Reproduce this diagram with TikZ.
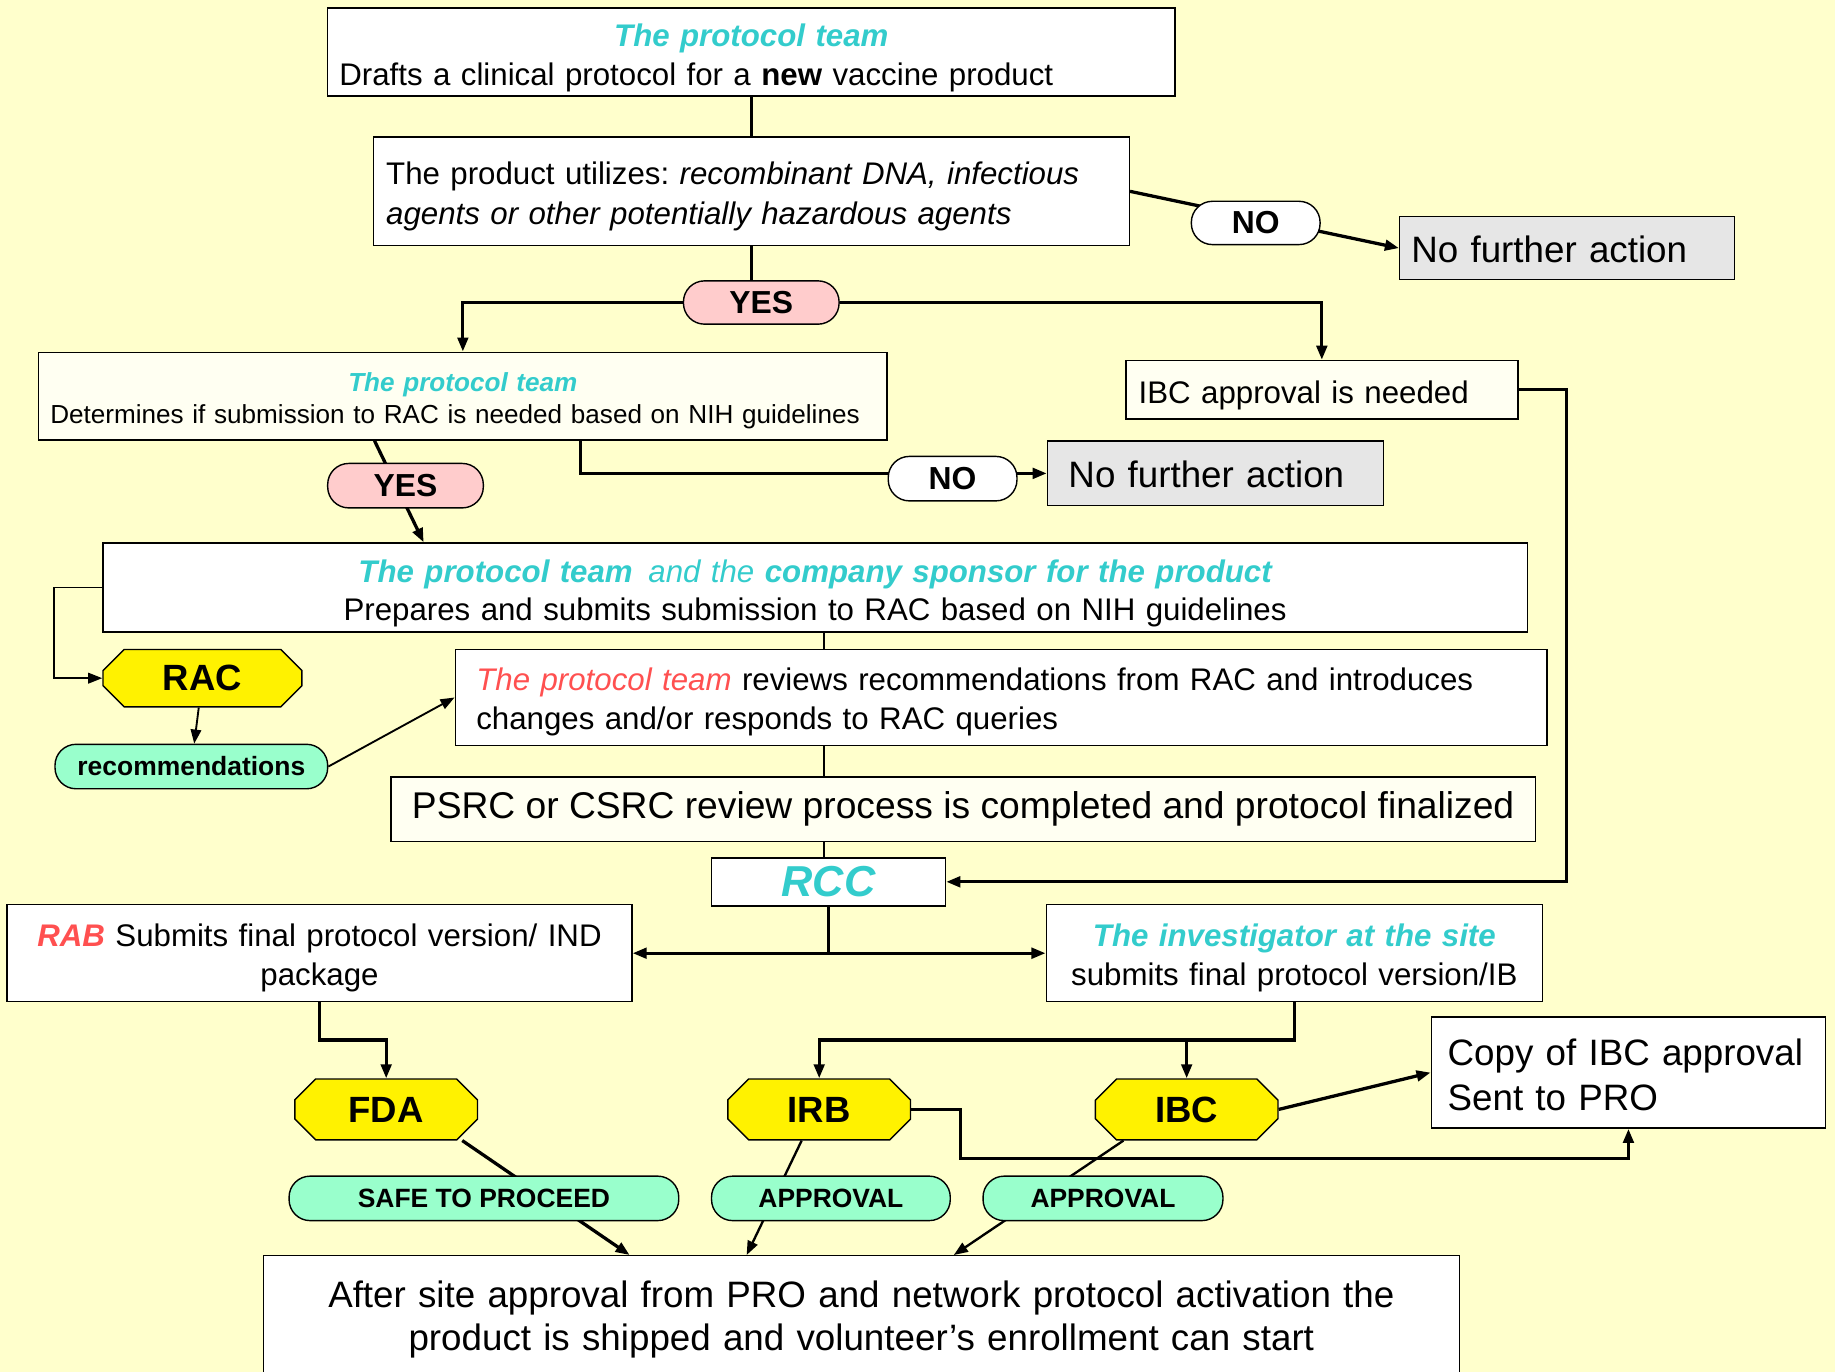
\documentclass[tikz,border=0pt]{standalone}
\usepackage{fontspec}
\setmainfont{Liberation Sans}
\usetikzlibrary{shapes.misc,arrows.meta,calc}

\definecolor{bgyellow}{HTML}{FFFFCC}
\definecolor{teamcyan}{HTML}{33CCCC}
\definecolor{teamred}{HTML}{FF5050}
\definecolor{yespink}{HTML}{FFCCCC}
\definecolor{mint}{HTML}{99FFCC}
\definecolor{stopgray}{HTML}{E6E6E6}
\definecolor{cream}{HTML}{FFFFF2}

\newcommand\fsbody{\fontsize{13.35pt}{16.5pt}\selectfont}
\newcommand\fsbig{\fontsize{15.7pt}{18.5pt}\selectfont}
\newcommand\fssmall{\fontsize{11.15pt}{13.5pt}\selectfont}
\newcommand\fsgate{\fontsize{15.6pt}{18pt}\selectfont}
\newcommand\team[1]{{\color{teamcyan}\bfseries\itshape #1}}
\newcommand\headroom[1]{\rule{0pt}{#1}}

\pgfdeclarelayer{paper}
\pgfdeclarelayer{wires}
\pgfsetlayers{paper,wires,main}

\tikzset{
  box/.style={draw, line width=0.6pt, fill=white, inner ysep=0pt, inner xsep=5pt, font=\fsbody},
  pill/.style={draw, line width=0.6pt, rounded corners=9pt, inner sep=0pt, minimum height=18.5pt, font=\fontsize{13.6pt}{16pt}\selectfont\bfseries},
  tag/.style={pill, fill=mint, font=\fontsize{11.3pt}{13.5pt}\selectfont\bfseries},
  gate/.style={chamfered rectangle, chamfered rectangle xsep=6.5pt, draw, line width=0.6pt, fill=yellow,
    inner sep=0pt, minimum width=78pt, minimum height=26pt, font=\fsgate\bfseries},
  link/.style={line width=1.4pt},
  midlink/.style={line width=1pt},
  thinlink/.style={line width=0.8pt},
}

\begin{document}
\frenchspacing
\begin{tikzpicture}[x=0.5pt, y=-0.5pt, >={Triangle[length=6pt,width=4.5pt]}]
  \useasboundingbox (0,0) rectangle (1568,1172);
  \begin{pgfonlayer}{paper}
    \fill[bgyellow] (0,0) rectangle (1568,1172);
  \end{pgfonlayer}

  % drafting and first decision
  \node[box, text width=352pt, minimum height=37.5pt, align=left] (draft) at (642,44.5)
    {\makebox[\linewidth]{\headroom{14.7pt}\team{The protocol team}}\\ Drafts a clinical protocol for a \textbf{new} vaccine product};
  \node[box, inner xsep=5.5pt, text width=312pt, minimum height=46.5pt, align=left,
    font=\fontsize{13.35pt}{17pt}\selectfont] (agents) at (642,163.5)
    {\headroom{14.2pt}The product utilizes: \textit{recombinant DNA, infectious}\\ \textit{agents or other potentially hazardous agents}};
  \node[pill, fill=white, minimum width=55pt] (no1) at (1073,190.5) {NO};
  \node[box, fill=stopgray, text width=133pt, minimum height=27pt, align=left, font=\fsbig] (stop1) at (1339,212)
    {\headroom{12.5pt}No further action};
  \node[pill, fill=yespink, minimum width=66.5pt] (yes1) at (650.5,258.5) {YES};

  % RAC decision
  \node[box, fill=cream, text width=352.5pt, minimum height=37.5pt, align=left, font=\fssmall] (decide) at (395.5,338.5)
    {\makebox[\linewidth]{\headroom{12.1pt}\team{The protocol team}}\\ Determines if submission to RAC is needed based on NIH guidelines};
  \node[box, fill=cream, inner xsep=5.5pt, text width=156.5pt, minimum height=25pt, align=left] (ibcneed) at (1129.5,333)
    {\headroom{14.6pt}IBC approval is needed};
  \node[pill, fill=yespink, minimum width=66.5pt, minimum height=19pt] (yes2) at (346.5,415) {YES};
  \node[pill, fill=white, minimum width=55pt, minimum height=19pt] (no2) at (814,409) {NO};
  \node[box, fill=stopgray, inner xsep=9pt, text width=125.5pt, minimum height=27.5pt, align=left, font=\fsbig] (stop2) at (1038.5,404.5)
    {\headroom{12.5pt}No further action};

  % RAC submission loop
  \node[box, text width=598.5pt, minimum height=38pt, align=center, font=\fontsize{13.35pt}{16pt}\selectfont] (prep) at (696.5,502)
    {\headroom{14.7pt}\team{The protocol team}\enspace{\color{teamcyan}\itshape and the} \team{company sponsor for the product}\\
     Prepares and submits submission to RAC based on NIH guidelines};
  \node[gate, minimum width=85pt, minimum height=24.5pt] (rac) at (173,579.5) {RAC};
  \node[tag, minimum width=116.5pt, minimum height=19pt] (recs) at (163.5,655) {recommendations};
  \node[box, inner xsep=9pt, text width=448.5pt, minimum height=41pt, align=left] (review) at (855.5,596)
    {\headroom{13.7pt}{\color{teamred}\itshape The protocol team} reviews recommendations from RAC and introduces\\ changes and/or responds to RAC queries};
  \node[box, fill=cream, minimum width=489pt, minimum height=27.5pt, font=\fontsize{15.9pt}{18.5pt}\selectfont] (psrc) at (823,691.5)
    {PSRC or CSRC review process is completed and protocol finalized};
  \node[box, inner xsep=0pt, minimum width=100pt, minimum height=20.5pt, text=teamcyan,
    font=\fontsize{18.5pt}{20pt}\selectfont\bfseries\itshape] (rcc) at (708,753.5) {RCC};

  % final submissions
  \node[box, text width=257pt, minimum height=41.5pt, align=center] (rab) at (273,814.5)
    {\headroom{13.7pt}{\color{teamred}\bfseries\itshape RAB} Submits final protocol version/ IND\\ package};
  \node[box, text width=202pt, minimum height=41.5pt, align=center] (inv) at (1106,814.5)
    {\headroom{13.7pt}\team{The investigator at the site}\\ submits final protocol version/IB};
  \node[gate] (fda) at (330,948) {FDA};
  \node[gate] (irb) at (700,948) {IRB};
  \node[gate] (ibc) at (1014,948) {IBC};
  \node[box, inner xsep=7pt, text width=154.5pt, minimum height=47.5pt, align=left,
    font=\fontsize{15.7pt}{19pt}\selectfont] (copy) at (1391.5,916.5)
    {\headroom{13.5pt}Copy of IBC approval\\ Sent to PRO};
  \node[tag, minimum width=166.5pt, minimum height=19pt] (safe) at (413.5,1024) {SAFE TO PROCEED};
  \node[tag, minimum width=102pt, minimum height=19pt] (appr1) at (710,1024) {APPROVAL};
  \node[tag, minimum width=102.5pt, minimum height=19pt] (appr2) at (942.5,1024) {APPROVAL};
  \node[box, text width=501pt, minimum height=51.5pt, align=center, font=\fsbig] (final) at (736,1124.5)
    {\headroom{14.5pt}After site approval from PRO and network protocol activation the\\ product is shipped and volunteer’s enrollment can start};

  \coordinate (spine) at (704,0);

  \begin{pgfonlayer}{wires}
    \draw[link] (draft) -- (agents);
    \draw[link, ->] (agents.east) -- (stop1.west);
    \draw[link] (agents.south) -- (agents.south |- yes1.north);
    \draw[link, ->] (yes1.west) -| (decide.north);
    \draw[link, ->] (yes1.east) -| (ibcneed.north);
    \draw[link, ->] (ibcneed.east) -- ++(41,0) |- (rcc.east);
    \draw[link, ->] ($(decide.south)+(-75.5,0)$) -- ($(prep.north)+(-334.5,0)$);
    \draw[link, ->] ($(decide.south)+(100.5,0)$) |- (stop2.west);
    \draw[thinlink, ->] (prep.west) -- ++(-41,0) |- (rac.west);
    \draw[thinlink, ->] (rac) -- (recs);
    \draw[thinlink, ->] (recs.east) -- (review.west);
    \draw[midlink] (prep.south -| spine) -- (review.north -| spine);
    \draw[midlink] (review.south -| spine) -- (psrc.north -| spine);
    \draw[midlink] (psrc.south -| spine) -- (rcc.north -| spine);
    \draw[midlink] (rcc.south) -- (rcc.south |- rab.east);
    \draw[link, <->] (rab.east) -- (inv.west);
    \draw[link, ->] (rab.south) -- ++(0,32) -| (fda.north);
    \draw[link, ->] (inv.south) -- ++(0,32) -| (irb.north);
    \draw[link, ->] (inv.south) ++(0,32) -| (ibc.north);
    \draw[link, ->] (ibc.east) -- (copy.west);
    \draw[link, ->] (irb.east) -- ++(42,0) -- ++(0,42) -| (copy.south);
    \draw[link, ->] ($(fda.south)+(65,0)$) -- ($(final.north)+(-198,0)$);
    \draw[midlink, ->] ($(irb.south)+(-15,0)$) -- ($(final.north)+(-98,0)$);
    \draw[midlink, ->] ($(ibc.south)+(-54,0)$) -- ($(final.north)+(79,0)$);
  \end{pgfonlayer}
\end{tikzpicture}
\end{document}
